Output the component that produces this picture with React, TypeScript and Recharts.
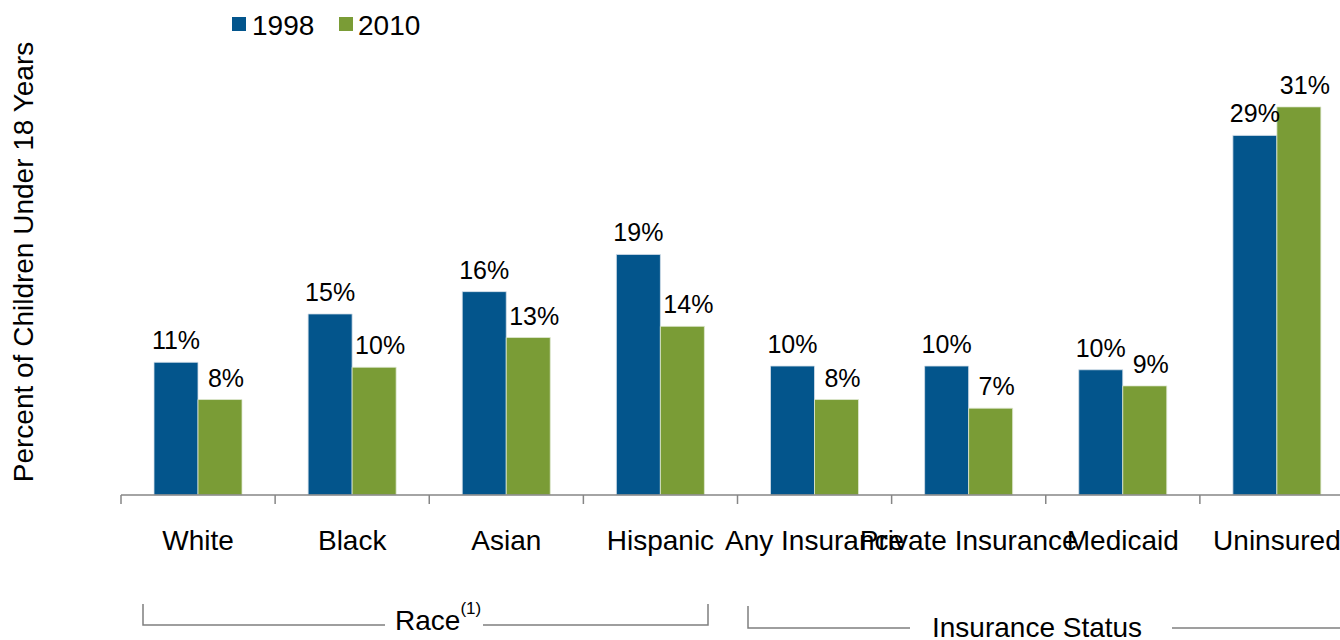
import { BarChart, Bar, XAxis, YAxis, LabelList } from "recharts"

const categories = ["White", "Black", "Asian", "Hispanic", "Any Insurance", "Private Insurance", "Medicaid", "Uninsured"]
const values1998 = [10.7, 14.6, 16.4, 19.4, 10.4, 10.4, 10.1, 29.0]
const values2010 = [7.7, 10.3, 12.7, 13.6, 7.7, 7.0, 8.8, 31.3]
const seriesNames = ["1998", "2010"]
const seriesColors = ["#03558C", "#7A9C36"]

const FONT = "'Liberation Sans', Arial, sans-serif"
const CHART_W = 1360
const CHART_H = 640
const MARGIN = { top: 61, right: 6, left: 121, bottom: 0 }
const BAND = (CHART_W - MARGIN.left - MARGIN.right) / categories.length

const data = categories.map((name, i) => ({
    name,
    y1998: values1998[i],
    y2010: values2010[i],
}))

const pct = (v: any) => `${Math.round(Number(v))}%`

function CategoryTick(props: any) {
    const { x, y, payload, index } = props
    const left = x - BAND / 2
    return (
        <g>
            <line x1={left} x2={left} y1={y} y2={y + 9} stroke="#868686" strokeWidth={1.5} />
            {index === categories.length - 1 && (
                <line x1={x + BAND / 2} x2={x + BAND / 2} y1={y} y2={y + 9} stroke="#868686" strokeWidth={1.5} />
            )}
            <text x={x} y={y + 55} textAnchor="middle" fontSize={28} fill="#000" fontFamily={FONT}>
                {payload.value}
            </text>
        </g>
    )
}

export default function App() {
    return (
        <div
            style={{
                position: "fixed",
                left: 0,
                top: 0,
                width: 1340,
                height: 640,
                overflow: "hidden",
                background: "#fff",
                fontFamily: FONT,
            }}
        >
            <BarChart
                width={CHART_W}
                height={CHART_H}
                data={data}
                margin={MARGIN}
                barSize={44}
                barGap={0}
            >
                <XAxis
                    dataKey="name"
                    interval={0}
                    height={145}
                    tickLine={false}
                    tickSize={0}
                    tickMargin={0}
                    axisLine={{ stroke: "#868686", strokeWidth: 1.5 }}
                    tick={<CategoryTick />}
                />
                <YAxis hide domain={[0, 35]} />
                <Bar dataKey="y1998" fill={seriesColors[0]} stroke="#d5e0ea" strokeWidth={0.8} isAnimationActive={false}>
                    <LabelList
                        dataKey="y1998"
                        position="top"
                        offset={13}
                        formatter={pct}
                        fontSize={25}
                        fill="#000"
                        fontFamily={FONT}
                    />
                </Bar>
                <Bar dataKey="y2010" fill={seriesColors[1]} stroke="#dfe8d2" strokeWidth={0.8} isAnimationActive={false}>
                    <LabelList
                        dataKey="y2010"
                        position="top"
                        offset={13}
                        dx={6}
                        formatter={pct}
                        fontSize={25}
                        fill="#000"
                        fontFamily={FONT}
                    />
                </Bar>
            </BarChart>

            <svg
                width={1340}
                height={640}
                style={{ position: "absolute", left: 0, top: 0, pointerEvents: "none" }}
                fontFamily={FONT}
            >
                {/* legend */}
                <rect x={232} y={17} width={14} height={14} fill={seriesColors[0]} />
                <text x={252} y={35} fontSize={28} fill="#000">{seriesNames[0]}</text>
                <rect x={339} y={17} width={14} height={14} fill={seriesColors[1]} />
                <text x={358} y={35} fontSize={28} fill="#000">{seriesNames[1]}</text>

                {/* y axis title */}
                <text
                    x={33}
                    y={262}
                    fontSize={28}
                    fill="#000"
                    textAnchor="middle"
                    transform="rotate(-90 33 262)"
                >
                    Percent of Children Under 18 Years
                </text>

                {/* group brackets */}
                <polyline points="143,604 143,625 385,625" fill="none" stroke="#7f7f7f" strokeWidth={1.5} />
                <polyline points="483,625 708,625 708,604" fill="none" stroke="#7f7f7f" strokeWidth={1.5} />
                <text x={395} y={630} fontSize={28} fill="#000">
                    Race
                    <tspan fontSize={17} dy={-16}>(1)</tspan>
                </text>

                <polyline points="748,606 748,628 910,628" fill="none" stroke="#7f7f7f" strokeWidth={1.5} />
                <line x1={1172} x2={1345} y1={628} y2={628} stroke="#7f7f7f" strokeWidth={1.5} />
                <text x={932} y={637} fontSize={28} fill="#000">Insurance Status</text>
            </svg>
        </div>
    )
}
